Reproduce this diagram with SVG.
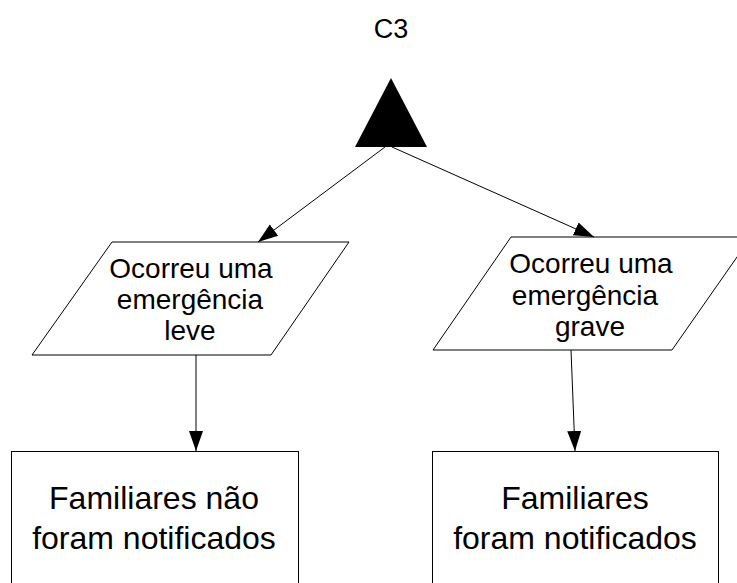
<svg xmlns="http://www.w3.org/2000/svg" width="737" height="583" viewBox="0 0 737 583">
<defs>
<style>
.t{font-family:"Liberation Sans",Arial,sans-serif;fill:#000;text-anchor:middle}
.s{fill:#fff;stroke:#000;stroke-width:1}
.c{stroke:#000;stroke-width:1;fill:none}
</style>
<marker id="ah" viewBox="0 0 20 20" refX="20" refY="10" markerWidth="20" markerHeight="20" markerUnits="userSpaceOnUse" orient="auto">
<path d="M0,3 L20,10 L0,17 Z" fill="#000"/>
</marker>
</defs>
<rect width="737" height="583" fill="#fff"/>
<g id="title"><text class="t" x="391" y="38" font-size="27">C3</text></g>
<g id="gate"><polygon points="355,147 427,147 391,78" fill="#000"/></g>
<g id="n1">
<polygon class="s" points="112,242 349,242 271,355 32,355"/>
<text class="t" font-size="28"><tspan x="191" y="278">Ocorreu uma</tspan><tspan x="190" y="309">emergência</tspan><tspan x="190" y="340">leve</tspan></text>
</g>
<g id="n2">
<polygon class="s" points="511,237 751,237 672,350 433,350"/>
<text class="t" font-size="28"><tspan x="591" y="273">Ocorreu uma</tspan><tspan x="585" y="305">emergência</tspan><tspan x="590" y="336">grave</tspan></text>
</g>
<g id="n3">
<rect class="s" x="11.5" y="451.5" width="287" height="140"/>
<text class="t" font-size="32"><tspan x="154" y="509">Familiares não</tspan><tspan x="154" y="549">foram notificados</tspan></text>
</g>
<g id="n4">
<rect class="s" x="432.5" y="451.5" width="286" height="140"/>
<text class="t" font-size="32"><tspan x="575" y="509">Familiares</tspan><tspan x="575" y="549">foram notificados</tspan></text>
</g>
<g id="connectors">
<line class="c" x1="385" y1="147" x2="258" y2="242" marker-end="url(#ah)"/>
<line class="c" x1="392" y1="147" x2="594" y2="237" marker-end="url(#ah)"/>
<line class="c" x1="196" y1="355" x2="196" y2="451" marker-end="url(#ah)"/>
<line class="c" x1="571" y1="350" x2="575" y2="451" marker-end="url(#ah)"/>
</g>
</svg>
